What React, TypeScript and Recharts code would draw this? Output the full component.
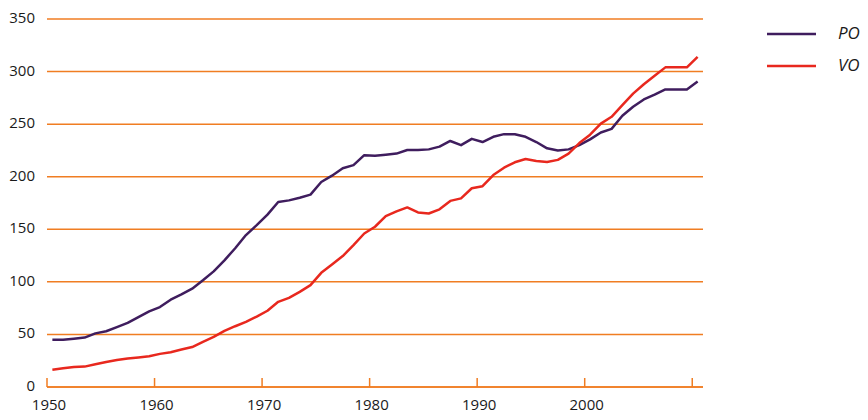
import React from 'react';
import { LineChart, Line, XAxis, YAxis, CartesianGrid } from 'recharts';

const years = [
  1950, 1951, 1952, 1953, 1954, 1955, 1956, 1957, 1958, 1959,
  1960, 1961, 1962, 1963, 1964, 1965, 1966, 1967, 1968, 1969,
  1970, 1971, 1972, 1973, 1974, 1975, 1976, 1977, 1978, 1979,
  1980, 1981, 1982, 1983, 1984, 1985, 1986, 1987, 1988, 1989,
  1990, 1991, 1992, 1993, 1994, 1995, 1996, 1997, 1998, 1999,
  2000, 2001, 2002, 2003, 2004, 2005, 2006, 2007, 2008, 2009,
  2010,
];

const poValues = [
  45, 45, 46, 47, 51, 53, 57, 61, 66.5, 72,
  76, 83, 88, 93.5, 101.5, 110, 120.5, 132, 144.5, 154,
  164, 176, 177.5, 180, 183, 195, 201, 208, 211, 220.5,
  220, 221, 222, 225.4, 225.4, 226, 228.6, 234, 230, 236,
  233, 238, 240.5, 240.4, 238, 233, 227, 225, 226, 230,
  235.5, 242, 245.5, 258, 266.5, 273.5, 278, 283, 283, 283,
  290.5,
];

const voValues = [
  16.5, 17.8, 19, 19.4, 21.6, 23.8, 25.7, 27, 28, 29.2,
  31.5, 33, 35.6, 38, 43, 47.6, 53.3, 57.8, 62, 67,
  72.5, 81, 84.8, 90.5, 96.9, 108.6, 116.5, 124.5, 135, 146,
  152.4, 162.5, 167, 170.8, 166, 165, 169, 177, 179.4, 189,
  191, 201.6, 208.6, 213.7, 216.8, 215, 214, 216, 222, 232,
  240, 250.5, 257, 268, 279, 288, 296, 304, 304, 304,
  314,
];

const seriesNames = ['PO', 'VO'];
const yTicks = [0, 50, 100, 150, 200, 250, 300, 350];
const xTickYears = [1950, 1960, 1970, 1980, 1990, 2000, 2010];
const xTickLabels = ['1950', '1960', '1970', '1980', '1990', '2000', ''];

const ORANGE = '#F07D22';
const PO_COLOR = '#3F1D5E';
const VO_COLOR = '#E8281E';
const TEXT = '#1a1a1a';
const FONT = "'Open Sans', sans-serif";

const data = years.map((year, i) => ({ year, po: poValues[i], vo: voValues[i] }));

const XTick = (props: any) => {
  const { x, y, payload } = props;
  const idx = xTickYears.indexOf(Math.round(payload.value + 0.5));
  const label = idx >= 0 ? xTickLabels[idx] : '';
  return (
    <g>
      <line x1={x} x2={x} y1={y} y2={y - 9} stroke={ORANGE} strokeWidth={1.5} />
      <text x={x + 2} y={y + 23} textAnchor="middle" fill={TEXT} fontSize={15} fontFamily={FONT}>
        {label}
      </text>
    </g>
  );
};

const YTick = (props: any) => {
  const { x, y, payload } = props;
  return (
    <text x={x} y={y - 2} textAnchor="end" dominantBaseline="central" fill={TEXT} fontSize={15} fontFamily={FONT}>
      {payload.value}
    </text>
  );
};

export default function App() {
  return (
    <div style={{ position: 'absolute', left: 0, top: 0, width: 868, height: 420 }}>
      <LineChart
        width={868}
        height={420}
        data={data}
        margin={{ top: 19, right: 165, left: 0, bottom: 8 }}
      >
        <CartesianGrid vertical={false} stroke={ORANGE} strokeWidth={1.5} />
        <XAxis
          type="number"
          dataKey="year"
          domain={[1949.5, 2010.5]}
          ticks={xTickYears.map((t) => t - 0.5)}
          interval={0}
          height={25}
          tickSize={0}
          tickMargin={0}
          tickLine={false}
          axisLine={{ stroke: ORANGE, strokeWidth: 1.5 }}
          tick={<XTick />}
        />
        <YAxis
          type="number"
          domain={[0, 350]}
          ticks={yTicks}
          interval={0}
          width={47}
          tickSize={0}
          tickMargin={12}
          axisLine={false}
          tickLine={false}
          tick={<YTick />}
        />
        <Line
          type="linear"
          dataKey="po"
          name={seriesNames[0]}
          stroke={PO_COLOR}
          strokeWidth={2.5}
          strokeLinejoin="round"
          dot={false}
          isAnimationActive={false}
        />
        <Line
          type="linear"
          dataKey="vo"
          name={seriesNames[1]}
          stroke={VO_COLOR}
          strokeWidth={2.5}
          strokeLinejoin="round"
          dot={false}
          isAnimationActive={false}
        />
      </LineChart>
      <svg
        width={101}
        height={70}
        style={{ position: 'absolute', left: 767, top: 18, overflow: 'visible' }}
      >
        {[PO_COLOR, VO_COLOR].map((c, i) => (
          <g key={seriesNames[i]}>
            <line x1={0} x2={49} y1={16 + i * 32} y2={16 + i * 32} stroke={c} strokeWidth={2.5} />
            <text
              x={71}
              y={14 + i * 32}
              dominantBaseline="central"
              fill={TEXT}
              fontSize={17}
              fontStyle="italic"
              fontFamily={FONT}
            >
              {seriesNames[i]}
            </text>
          </g>
        ))}
      </svg>
    </div>
  );
}
